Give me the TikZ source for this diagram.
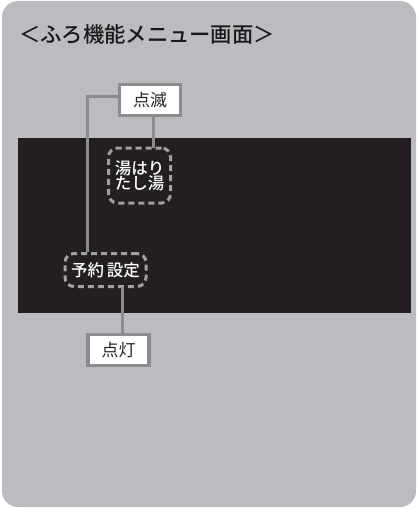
\documentclass[tikz,border=0pt]{standalone}
\usepackage{fontspec}
\newfontfamily\jp{Noto Sans CJK JP}
\newfontfamily\jpm{Noto Sans CJK JP Medium}
\definecolor{bgray}{HTML}{BBBCBF}
\definecolor{panel}{HTML}{231F20}
\definecolor{lgray}{HTML}{8C8C8E}
\definecolor{dgray}{HTML}{A0A0A3}
\tikzset{
  tagbox/.style={draw=lgray, line width=3.5pt, fill=white, minimum width=61pt, minimum height=31pt, inner sep=0pt, font=\jp\fontsize{17}{18}\selectfont, text=black!85},
  dashbox/.style={draw=dgray, line width=3pt, dash pattern=on 6pt off 4pt, rounded corners=9pt, inner sep=0pt, text=white, font=\jpm\fontsize{16.5}{19}\selectfont, align=center},
  conn/.style={draw=lgray, line width=3pt}
}
\begin{document}
\begin{tikzpicture}[x=1pt,y=-1pt]
\useasboundingbox (0,0) rectangle (418,508);
\fill[bgray, rounded corners=16pt] (2,1) rectangle (416,507);
\fill[panel] (18,138) rectangle (411,313);
\node[anchor=west, font=\jpm\fontsize{21.3}{23}\selectfont, text=black!90, inner sep=0pt] (title) at (19,34) {＜ふろ機能メニュー画面＞};
\node[dashbox, minimum width=62pt, minimum height=55pt] (yuhari) at (139.5,175.5) {湯はり\\[-4pt]たし湯};
\node[dashbox, minimum width=81pt, minimum height=33pt] (yoyaku) at (105.5,270) {予約\,設定};
\node[tagbox] (tenmetsu) at (150,100) {点滅};
\node[tagbox] (tento) at (118.5,350) {点灯};
\coordinate (c1) at (87,97);
\draw[conn] (tenmetsu.west |- c1) -- (c1) -- (c1 |- yoyaku.north);
\draw[conn] (153,116) -- (153,148);
\draw[conn] (122,287) -- (tento.north -| 122,0);
\node[tagbox] at (tenmetsu) {点滅};
\node[tagbox] at (tento) {点灯};
\end{tikzpicture}
\end{document}
